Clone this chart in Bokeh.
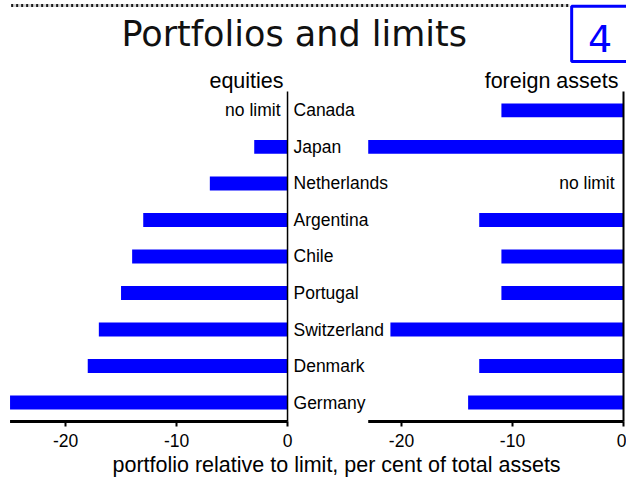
from bokeh.plotting import figure
from bokeh.models import Range1d, FixedTicker, ColumnDataSource, Title
from bokeh.core.properties import value
from bokeh.embed import file_html
from bokeh.resources import INLINE

# ---------------- data ----------------
countries = ["Canada", "Japan", "Netherlands", "Argentina", "Chile",
             "Portugal", "Switzerland", "Denmark", "Germany"]
equities = [None, -3, -7, -13, -14, -15, -17, -18, -25]
foreign_assets = [-11, -23, None, -13, -11, -11, -21, -13, -14]
tick_values = [-20, -10, 0]
title_text = "Portfolios and limits"
panel_titles = ["equities", "foreign assets"]
no_limit_text = "no limit"
x_label_text = "portfolio relative to limit, per cent of total assets"
chart_number = "4"

# ---------------- layout constants ----------------
W, H = 626, 478
X_START, X_END = -25.86, 30.54      # main (left panel) range over the frame
OFFSET = 30.27                      # right panel shift in main units
Y_START, Y_END = -0.574, 11.01
LEFT_MIN, RIGHT_MIN = -25, -23      # axis extents
BAR_H = 0.38
BLUE = "#0000ff"
FONT = "Liberation Sans"
TITLE_FONT = "DejaVu Sans"

n = len(countries)
rows = list(range(n - 1, -1, -1))   # Canada on top

p = figure(width=W, height=H, output_backend="svg", toolbar_location=None,
           x_range=Range1d(X_START, X_END), y_range=Range1d(Y_START, Y_END),
           y_axis_location=None, x_axis_location="below",
           min_border_left=0, min_border_right=0, min_border_top=0,
           min_border_bottom=54, title=None)
p.extra_x_ranges = {"right": Range1d(X_START - OFFSET, X_END - OFFSET)}
p.outline_line_color = None
p.xgrid.visible = False
p.ygrid.visible = False
p.background_fill_color = "white"
p.border_fill_color = "white"

# ---------------- bars ----------------
eq_src = ColumnDataSource(dict(
    y=[r for r, v in zip(rows, equities) if v is not None],
    left=[v for v in equities if v is not None]))
fa_src = ColumnDataSource(dict(
    y=[r for r, v in zip(rows, foreign_assets) if v is not None],
    left=[v for v in foreign_assets if v is not None]))
p.hbar(y="y", left="left", right=0, height=BAR_H, source=eq_src,
       fill_color=BLUE, line_color=None)
p.hbar(y="y", left="left", right=0, height=BAR_H, source=fa_src,
       fill_color=BLUE, line_color=None, x_range_name="right")

# ---------------- axes ----------------
AX_Y = -0.52
TOP_Y = n - 1 + 0.52
p.line(x=[LEFT_MIN, 0], y=[AX_Y, AX_Y], line_color="black", line_width=3)
p.line(x=[RIGHT_MIN, 0], y=[AX_Y, AX_Y], line_color="black", line_width=3,
       x_range_name="right")
p.line(x=[0, 0], y=[AX_Y, TOP_Y], line_color="black", line_width=1.5)
p.line(x=[0, 0], y=[AX_Y, TOP_Y], line_color="black", line_width=2,
       x_range_name="right")

ax = p.xaxis[0]
right_ticks = [t + OFFSET for t in tick_values]
ax.ticker = FixedTicker(ticks=tick_values + right_ticks)
overrides = {t: str(t) for t in tick_values}
overrides.update({t + OFFSET: str(t) for t in tick_values})
ax.major_label_overrides = overrides
ax.axis_line_color = None
ax.minor_tick_line_color = None
ax.major_tick_in = 2
ax.major_tick_out = 3
ax.major_tick_line_width = 2
ax.major_tick_line_color = "black"
ax.major_label_standoff = 7
ax.major_label_text_font = FONT
ax.major_label_text_font_size = "17.5px"
ax.major_label_text_color = "black"

# ---------------- texts ----------------
p.text(x=[0.54] * n, y=rows, text=countries, text_font=value(FONT),
       text_font_size="17.5px", text_baseline="middle", text_align="left",
       text_color="black")
eq_nl = [r for r, v in zip(rows, equities) if v is None]
fa_nl = [r for r, v in zip(rows, foreign_assets) if v is None]
p.text(x=[-0.63] * len(eq_nl), y=eq_nl, text=[no_limit_text] * len(eq_nl),
       text_font=value(FONT), text_font_size="17.5px", text_baseline="middle",
       text_align="right", text_color="black")
p.text(x=[-0.8] * len(fa_nl), y=fa_nl, text=[no_limit_text] * len(fa_nl),
       text_font=value(FONT), text_font_size="17.5px", text_baseline="middle",
       text_align="right", text_color="black", x_range_name="right")
p.text(x=[-0.36], y=[8.8], text=[panel_titles[0]], text_font=value(FONT),
       text_font_size="21.5px", text_baseline="middle", text_align="right",
       text_color="black")
p.text(x=[-0.45], y=[8.8], text=[panel_titles[1]], text_font=value(FONT),
       text_font_size="21.5px", text_baseline="middle", text_align="right",
       text_color="black", x_range_name="right")

# title, dotted rule, number box
p.line(x=[-24.9, 25.4], y=[10.87, 10.87], line_color="#d4d4d4", line_width=3)
p.line(x=[-24.9, 25.4], y=[10.87, 10.87], line_color="#1a1a1a", line_width=3,
       line_dash="2 3")
p.text(x=[0.6], y=[10.1], text=[title_text], text_font=value(TITLE_FONT),
       text_font_size="35px", text_baseline="middle", text_align="center",
       text_color="#111111")
p.quad(left=[25.6], right=[33.0], top=[10.85], bottom=[9.34],
       fill_color=None, line_color=BLUE, line_width=3)
p.text(x=[28.15], y=[9.98], text=[chart_number], text_font=value(TITLE_FONT),
       text_font_size="38px", text_baseline="middle", text_align="center",
       text_color=BLUE)

# bottom caption (below the axis)
p.add_layout(Title(text=x_label_text, text_font=FONT, text_font_size="21.5px",
                   text_font_style="normal", text_color="black",
                   align="left", offset=112, standoff=3), "below")

open("out.html", "w").write(file_html(p, INLINE))
